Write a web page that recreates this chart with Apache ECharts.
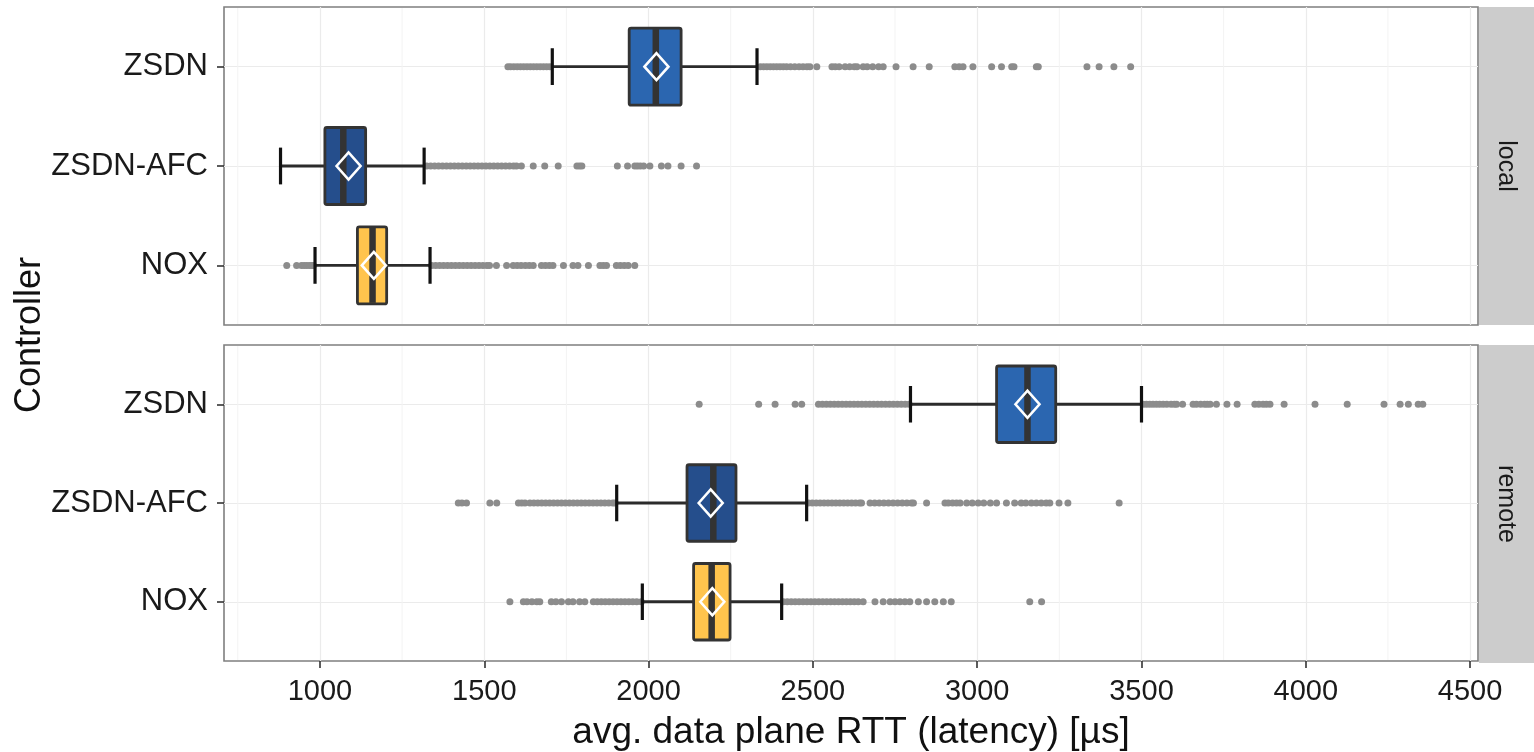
<!DOCTYPE html>
<html><head><meta charset="utf-8">
<script src="https://cdn.jsdelivr.net/npm/echarts@6/dist/echarts.min.js"></script>
<style>html,body{margin:0;padding:0;background:#fff;} #c{width:1534px;height:752px;}</style>
</head><body><div id="c"></div>
<script>
// ---------- data ----------
const controllers = ['ZSDN', 'ZSDN-AFC', 'NOX'];
const settings = ['local', 'remote'];
const xTicks = [1000, 1500, 2000, 2500, 3000, 3500, 4000, 4500];
const xMinorTicks = [750, 1250, 1750, 2250, 2750, 3250, 3750, 4250];
const xTitle = 'avg. data plane RTT (latency) [µs]';
const yTitle = 'Controller';

// box stats: [lowerWhisker, Q1, median, Q3, upperWhisker, mean]
const localZSDN = [1707, 1941, 2022, 2099, 2330, 2024];
const localAFC  = [880, 1015, 1071, 1139, 1317, 1087];
const localNOX  = [985, 1114, 1160, 1203, 1335, 1164];
const remoteZSDN = [2797, 3059, 3153, 3239, 3500, 3153];
const remoteAFC  = [1903, 2117, 2197, 2266, 2481, 2189];
const remoteNOX  = [1981, 2137, 2192, 2248, 2405, 2194];

// outliers
const localZSDNOut = [1572, 1580, 1590, 1600, 1610, 1620, 1630, 1640, 1650, 1660, 1670, 1680, 1690, 1700,
  2340, 2350, 2360, 2370, 2380, 2390, 2400, 2410, 2420, 2432, 2445, 2458, 2470, 2482, 2491, 2512,
  2558, 2568, 2580, 2598, 2612, 2626, 2634, 2653, 2665, 2682, 2700, 2714, 2753, 2805, 2854,
  2932, 2945, 2957, 2987, 3044, 3074, 3105, 3112, 3180, 3186, 3334, 3371, 3416, 3467];
const localAFCOut = [1325, 1337, 1349, 1361, 1373, 1385, 1397, 1409, 1421, 1433, 1445, 1457, 1469, 1481,
  1493, 1505, 1517, 1529, 1541, 1553, 1565, 1577, 1589, 1598, 1613, 1649, 1684, 1725, 1782, 1790, 1797,
  1905, 1936, 1958, 1966, 1975, 1985, 2004, 2039, 2059, 2099, 2146];
const localNOXOut = [899, 929, 944, 952, 960, 968, 975, 980,
  1340, 1352, 1364, 1376, 1388, 1400, 1412, 1424, 1436, 1448, 1460, 1472, 1484, 1496, 1508, 1516,
  1537, 1568, 1588, 1600, 1612, 1625, 1637, 1649, 1674, 1686, 1698, 1709, 1741, 1770, 1785, 1817,
  1852, 1862, 1872, 1902, 1914, 1926, 1938, 1958];
const remoteZSDNOut = [2154, 2335, 2385, 2446, 2466,
  2517, 2529, 2541, 2553, 2565, 2577, 2589, 2601, 2613, 2625, 2637, 2649, 2661, 2673, 2685, 2697,
  2709, 2721, 2733, 2745, 2757, 2769, 2781, 2793,
  3505, 3515, 3525, 3535, 3545, 3555, 3566, 3577, 3590, 3600, 3607, 3625, 3657, 3667, 3680, 3692,
  3700, 3709, 3728, 3760, 3791, 3845, 3857, 3870, 3880, 3891, 3934, 4028, 4126, 4238, 4287, 4312, 4342, 4356];
const remoteAFCOut = [1421, 1432, 1446, 1517, 1538, 1604, 1614, 1624,
  1639, 1651, 1663, 1675, 1687, 1699, 1711, 1723, 1735, 1747, 1759, 1771, 1783, 1795, 1807, 1819,
  1831, 1843, 1855, 1867, 1879, 1891, 1898,
  2486, 2498, 2510, 2522, 2534, 2546, 2558, 2570, 2582, 2594, 2606, 2618, 2630, 2642, 2648,
  2674, 2688, 2702, 2716, 2730, 2744, 2758, 2772, 2786, 2800, 2806, 2846,
  2902, 2912, 2925, 2937, 2948, 2968, 2985, 3003, 3020, 3040, 3059, 3089, 3114,
  3134, 3148, 3165, 3180, 3195, 3210, 3221, 3249, 3276, 3432];
const remoteNOXOut = [1578, 1619, 1630, 1645, 1660, 1669, 1704, 1718, 1735, 1756, 1770, 1790, 1806,
  1832, 1844, 1856, 1868, 1880, 1892, 1904, 1916, 1928, 1940, 1952, 1964, 1978,
  2410, 2422, 2434, 2446, 2458, 2470, 2482, 2494, 2506, 2518, 2530, 2542, 2554, 2566, 2578, 2590,
  2602, 2614, 2626, 2638, 2653, 2689, 2714, 2735, 2750, 2765, 2780, 2795, 2821, 2846, 2871, 2897,
  2921, 3160, 3196];

// ---------- styling ----------
const boxColors = ['#2B66B0', '#254E8C', '#FFC44D'];
const FONT = '"Liberation Sans", Arial, Helvetica, sans-serif';
const PANEL_L = 224, PANEL_W = 1254, PANEL_H = 318;
const PANEL_TOPS = [7, 345];
const X_MIN = 708, X_MAX = 4524;

const statsBySetting = [[localZSDN, localAFC, localNOX], [remoteZSDN, remoteAFC, remoteNOX]];
const outBySetting = [[localZSDNOut, localAFCOut, localNOXOut], [remoteZSDNOut, remoteAFCOut, remoteNOXOut]];

function renderBox(params, api) {
  const c = api.value(0);
  const P = k => api.coord([api.value(k), c]);
  const lo = P(1), q1 = P(2), md = P(3), q3 = P(4), hi = P(5), mn = P(6);
  const unit = Math.abs(api.size([0, 1])[1]);
  const y = lo[1];
  const bh = unit * 0.775, ch = unit * 0.37;
  const col = boxColors[api.value(7)];
  return {
    type: 'group',
    children: [
      {type: 'line', shape: {x1: lo[0], y1: y, x2: q1[0], y2: y}, style: {stroke: '#2B2B2B', lineWidth: 2.8}},
      {type: 'line', shape: {x1: q3[0], y1: y, x2: hi[0], y2: y}, style: {stroke: '#2B2B2B', lineWidth: 2.8}},
      {type: 'line', shape: {x1: lo[0], y1: y - ch / 2, x2: lo[0], y2: y + ch / 2}, style: {stroke: '#111', lineWidth: 3.2}},
      {type: 'line', shape: {x1: hi[0], y1: y - ch / 2, x2: hi[0], y2: y + ch / 2}, style: {stroke: '#111', lineWidth: 3.2}},
      {type: 'rect', shape: {x: q1[0], y: y - bh / 2, width: q3[0] - q1[0], height: bh, r: 2},
        style: {fill: col, stroke: '#333', lineWidth: 2.8}},
      {type: 'line', shape: {x1: md[0], y1: y - bh / 2 + 1, x2: md[0], y2: y + bh / 2 - 1}, style: {stroke: '#333', lineWidth: 6.5}},
      {type: 'polygon', shape: {points: [[mn[0] - 12, y], [mn[0], y - 13.5], [mn[0] + 12, y], [mn[0], y + 13.5]]},
        style: {fill: 'none', stroke: '#fff', lineWidth: 2.6}}
    ]
  };
}

function renderMinorGrid(params, api) {
  const cs = params.coordSys;
  const p = api.coord([api.value(0), 2]);
  return {type: 'line', shape: {x1: p[0], y1: cs.y + 1, x2: p[0], y2: cs.y + cs.height - 1},
    style: {stroke: '#F3F3F3', lineWidth: 1}, silent: true};
}

const grids = PANEL_TOPS.map(t => ({
  left: PANEL_L, top: t, width: PANEL_W, height: PANEL_H,
  show: true, borderColor: '#7F7F7F', borderWidth: 1.6, backgroundColor: '#fff'
}));

const xAxes = PANEL_TOPS.map((t, i) => ({
  type: 'value', gridIndex: i, min: X_MIN, max: X_MAX,
  axisLine: {show: false},
  axisTick: {show: i === 1, customValues: xTicks, length: 7, lineStyle: {color: '#333', width: 1.6}},
  axisLabel: {show: i === 1, customValues: xTicks, margin: 16, fontSize: 29, color: '#1A1A1A', fontFamily: FONT,
    formatter: v => String(v)},
  minorTick: {show: false},
  minorSplitLine: {show: false},
  splitLine: {show: true, lineStyle: {color: '#EBEBEB', width: 1.2}},
  name: i === 1 ? xTitle : '', nameLocation: 'middle', nameGap: 53,
  nameTextStyle: {fontSize: 37, color: '#111', fontFamily: FONT}
}));

const yAxes = PANEL_TOPS.map((t, i) => ({
  type: 'value', gridIndex: i, min: 0.4, max: 3.6, inverse: true,
  axisLine: {show: false},
  axisTick: {show: true, customValues: [1, 2, 3], length: 7, lineStyle: {color: '#333', width: 1.6}},
  axisLabel: {show: true, customValues: [1, 2, 3], margin: 16, fontSize: 31, color: '#1A1A1A', fontFamily: FONT,
    formatter: v => controllers[Math.round(v) - 1] || ''},
  splitLine: {show: true, lineStyle: {color: '#EBEBEB', width: 1.2}}
}));

const series = [];
settings.forEach((s, i) => {
  series.push({
    type: 'custom', name: s + ' minor grid', xAxisIndex: i, yAxisIndex: i, renderItem: renderMinorGrid,
    z: 1, silent: true, encode: {x: 0}, data: xMinorTicks.map(v => [v])
  });
  const pts = [];
  outBySetting[i].forEach((arr, k) => arr.forEach(v => pts.push([v, k + 1])));
  series.push({
    type: 'scatter', name: s + ' outliers', xAxisIndex: i, yAxisIndex: i, data: pts,
    symbol: 'circle', symbolSize: 7, itemStyle: {color: '#8C8C8C', opacity: 1}, silent: true, z: 2
  });
  series.push({
    type: 'custom', name: s, xAxisIndex: i, yAxisIndex: i, renderItem: renderBox, z: 3,
    encode: {x: [1, 2, 3, 4, 5, 6], y: 0},
    data: statsBySetting[i].map((st, k) => [k + 1, ...st, k])
  });
});

const graphic = [
  {type: 'text', x: 30, y: (PANEL_TOPS[0] + PANEL_TOPS[1] + PANEL_H) / 2, rotation: Math.PI / 2,
    style: {text: yTitle, fontSize: 36, fill: '#111', fontFamily: FONT, align: 'center', verticalAlign: 'middle'}}
];
settings.forEach((s, i) => {
  graphic.push({type: 'rect', shape: {x: PANEL_L + PANEL_W + 1, y: PANEL_TOPS[i], width: 60, height: PANEL_H},
    style: {fill: '#CCCCCC'}});
  graphic.push({type: 'text', x: PANEL_L + PANEL_W + 28, y: PANEL_TOPS[i] + PANEL_H / 2, rotation: -Math.PI / 2,
    style: {text: s, fontSize: 25, fill: '#1A1A1A', fontFamily: FONT, align: 'center', verticalAlign: 'middle'}});
});

const chart = echarts.init(document.getElementById('c'), null, {renderer: 'canvas'});
chart.setOption({
  animation: false,
  backgroundColor: '#fff',
  textStyle: {fontFamily: FONT},
  grid: grids, xAxis: xAxes, yAxis: yAxes, series, graphic
});
</script></body></html>
